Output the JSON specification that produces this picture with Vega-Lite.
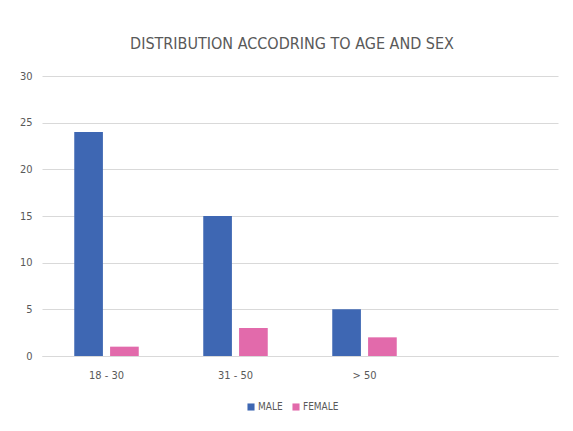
{
  "$schema": "https://vega.github.io/schema/vega-lite/v6.json",
  "autosize": "none",
  "width": 516,
  "height": 280,
  "padding": {"left": 42, "top": 76, "right": 15, "bottom": 75},
  "background": "white",
  "title": {
    "text": "DISTRIBUTION ACCODRING TO AGE AND SEX",
    "font": "DejaVu Sans Condensed, Liberation Sans, sans-serif",
    "fontSize": 16,
    "fontWeight": "normal",
    "color": "#595959",
    "anchor": "middle",
    "dx": -8,
    "offset": 18
  },
  "data": {
    "values": [
      {"age": "18 - 30", "sex": "MALE", "count": 24},
      {"age": "18 - 30", "sex": "FEMALE", "count": 1},
      {"age": "31 - 50", "sex": "MALE", "count": 15},
      {"age": "31 - 50", "sex": "FEMALE", "count": 3},
      {"age": "> 50", "sex": "MALE", "count": 5},
      {"age": "> 50", "sex": "FEMALE", "count": 2}
    ]
  },
  "mark": {"type": "bar"},
  "encoding": {
    "x": {
      "field": "age",
      "type": "nominal",
      "sort": null,
      "scale": {"domain": ["18 - 30", "31 - 50", "> 50", ""], "paddingInner": 0.5, "paddingOuter": 0.25},
      "axis": {
        "title": null,
        "labelAngle": 0,
        "labelFont": "DejaVu Sans Condensed, Liberation Sans, sans-serif",
        "labelFontSize": 11,
        "labelColor": "#595959",
        "labelPadding": 13,
        "ticks": false,
        "domainColor": "#d9d9d9",
        "domainWidth": 1
      }
    },
    "xOffset": {
      "field": "sex",
      "type": "nominal",
      "sort": ["MALE", "FEMALE"],
      "scale": {"paddingInner": 0.2, "paddingOuter": 0}
    },
    "y": {
      "field": "count",
      "type": "quantitative",
      "scale": {"domain": [0, 30]},
      "axis": {
        "title": null,
        "values": [0, 5, 10, 15, 20, 25, 30],
        "labelFont": "DejaVu Sans Condensed, Liberation Sans, sans-serif",
        "labelFontSize": 11,
        "labelColor": "#595959",
        "labelPadding": 10,
        "ticks": false,
        "domain": false,
        "gridColor": "#d9d9d9",
        "gridWidth": 1
      }
    },
    "color": {
      "field": "sex",
      "type": "nominal",
      "sort": ["MALE", "FEMALE"],
      "scale": {"domain": ["MALE", "FEMALE"], "range": ["#3e67b3", "#e26aab"]},
      "legend": {
        "title": null,
        "orient": "none",
        "legendX": 204,
        "legendY": 326,
        "direction": "horizontal",
        "symbolType": "square",
        "symbolSize": 50,
        "symbolStrokeWidth": 0,
        "labelFont": "DejaVu Sans Condensed, Liberation Sans, sans-serif",
        "labelFontSize": 10,
        "labelColor": "#595959",
        "labelOffset": 2,
        "columnPadding": 8
      }
    }
  },
  "config": {
    "view": {"stroke": null}
  }
}
